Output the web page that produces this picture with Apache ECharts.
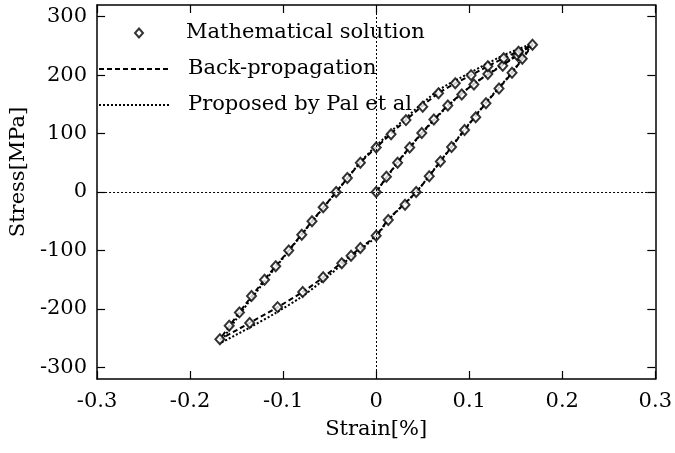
<!DOCTYPE html>
<html>
<head>
<meta charset="utf-8">
<title>Stress-strain loop</title>
<script src="https://cdn.jsdelivr.net/npm/echarts@6/dist/echarts.min.js"></script>
<style>
html, body { margin: 0; padding: 0; background: #fff; }
#chart { width: 675px; height: 453px; }
</style>
</head>
<body>
<div id="chart"></div>
<script>
// axis ticks
var yTicks = [-300, -200, -100, 0, 100, 200, 300];

// Mathematical solution (markers): initial loading, unloading, reloading
var mathLoadStrain = [0, 0.011, 0.023, 0.036, 0.049, 0.062, 0.077, 0.092, 0.105, 0.120, 0.136, 0.152, 0.168];
var mathLoadStress = [0, 26, 50, 76, 101, 124, 148, 167, 184, 202, 216, 233, 252];
var mathUnloadStrain = [0.157, 0.146, 0.132, 0.118, 0.107, 0.095, 0.081, 0.069, 0.057, 0.043, 0.031, 0.013, 0, -0.017, -0.027, -0.037, -0.057, -0.079, -0.106, -0.136, -0.168];
var mathUnloadStress = [228, 204, 177, 152, 128, 106, 77, 52, 27, 0, -22, -48, -75, -96, -109, -122, -146, -171, -197, -224, -252];
var mathReloadStrain = [-0.158, -0.147, -0.134, -0.120, -0.108, -0.094, -0.080, -0.069, -0.057, -0.043, -0.031, -0.017, 0, 0.016, 0.032, 0.050, 0.067, 0.085, 0.102, 0.120, 0.137, 0.153];
var mathReloadStress = [-229, -206, -178, -150, -127, -100, -73, -50, -26, 0, 24, 50, 76, 99, 123, 146, 169, 186, 200, 215, 229, 240];

// Back-propagation (dashed), one path: load -> unload -> reload
var bpStrain = [0, 0.023, 0.049, 0.077, 0.105, 0.136, 0.168,
    0.146, 0.118, 0.095, 0.069, 0.043, 0.013, 0, -0.027, -0.057, -0.079, -0.106, -0.136, -0.168,
    -0.147, -0.120, -0.094, -0.069, -0.043, -0.017, 0, 0.032, 0.067, 0.102, 0.137, 0.168];
var bpStress = [0, 51, 101, 148, 185, 217, 252,
    204, 152, 106, 52, 0, -47, -74, -108, -146, -171, -197, -224, -252,
    -206, -150, -100, -50, 0, 50, 76, 123, 169, 200, 229, 252];

// Proposed by Pal et al (dotted)
var palStrain = [0, 0.023, 0.049, 0.077, 0.105, 0.136, 0.168,
    0.146, 0.118, 0.095, 0.069, 0.043, 0.013, 0, -0.027, -0.057, -0.079, -0.106, -0.136, -0.168,
    -0.147, -0.120, -0.094, -0.069, -0.043, -0.017, 0, 0.032, 0.067, 0.102, 0.137, 0.168];
var palStress = [0, 50, 100, 147, 185, 218, 254,
    205, 153, 107, 53, 0, -48, -76, -111, -151, -178, -205, -232, -259,
    -210, -153, -101, -51, 0, 51, 79, 127, 174, 205, 234, 254];

function pairs(xs, ys) {
    var out = [];
    for (var i = 0; i < xs.length; i++) out.push([xs[i], ys[i]]);
    return out;
}

var mathData = pairs(mathLoadStrain, mathLoadStress)
    .concat(pairs(mathUnloadStrain, mathUnloadStress))
    .concat(pairs(mathReloadStrain, mathReloadStress));

var font = 'DejaVu Serif';
var fs = 21;
var hidden = { color: 'rgba(0,0,0,0)', borderWidth: 0 };
var legendText = { fontFamily: font, fontSize: fs, color: '#000', lineHeight: 22 };

var myChart = echarts.init(document.getElementById('chart'));
var option = {
    backgroundColor: '#fff',
    animation: false,
    grid: { left: 88, right: 16, top: 5, bottom: 74 },
    legend: [{
        // marker entry
        orient: 'vertical',
        left: 129,
        top: 17,
        itemWidth: 8,
        itemHeight: 9,
        textStyle: Object.assign({ padding: [0, 0, 0, 38] }, legendText),
        data: [{ name: 'Mathematical solution', icon: 'emptyDiamond', itemStyle: { color: '#000', borderWidth: 2.5 } }]
    }, {
        // line entries
        orient: 'vertical',
        left: 93,
        top: 53,
        itemWidth: 70,
        itemHeight: 8,
        itemGap: 14,
        textStyle: Object.assign({ padding: [0, 0, 0, 14] }, legendText),
        data: [
            { name: 'Back-propagation', itemStyle: hidden },
            { name: 'Proposed by Pal et al', itemStyle: hidden }
        ]
    }],
    xAxis: [{
        type: 'value',
        min: -0.3, max: 0.3, interval: 0.1,
        name: 'Strain[%]',
        nameLocation: 'middle',
        nameGap: 40,
        nameTextStyle: { fontFamily: font, fontSize: fs, color: '#000' },
        axisLine: { onZero: false, lineStyle: { color: '#000', width: 1.5 } },
        axisTick: { inside: true, length: 8, lineStyle: { color: '#000', width: 1.2 } },
        axisLabel: { fontFamily: font, fontSize: fs, color: '#000', margin: 12 },
        splitLine: { show: false }
    }, {
        type: 'value',
        position: 'top',
        min: -0.3, max: 0.3, interval: 0.1,
        axisLine: { onZero: false, lineStyle: { color: '#000', width: 1.5 } },
        axisTick: { inside: true, length: 8, lineStyle: { color: '#000', width: 1.2 } },
        axisLabel: { show: false },
        splitLine: { show: false }
    }],
    yAxis: [{
        type: 'value',
        min: -320, max: 320,
        name: 'Stress[MPa]',
        nameLocation: 'middle',
        nameGap: 58,
        nameTextStyle: { fontFamily: font, fontSize: fs, color: '#000', padding: [0, 0, 0, 40] },
        axisLine: { onZero: false, lineStyle: { color: '#000', width: 1.5 } },
        axisTick: { inside: true, length: 8, customValues: yTicks, lineStyle: { color: '#000', width: 1.2 } },
        axisLabel: { fontFamily: font, fontSize: fs, color: '#000', margin: 10, customValues: yTicks },
        splitLine: { show: false }
    }, {
        type: 'value',
        position: 'right',
        min: -320, max: 320,
        axisLine: { onZero: false, lineStyle: { color: '#000', width: 1.5 } },
        axisTick: { inside: true, length: 8, customValues: yTicks, lineStyle: { color: '#000', width: 1.2 } },
        axisLabel: { show: false },
        splitLine: { show: false }
    }],
    series: [{
        name: 'Mathematical solution',
        type: 'scatter',
        symbol: 'emptyDiamond',
        symbolSize: [9, 10],
        itemStyle: { color: '#000', borderWidth: 3 },
        data: mathData,
        z: 4,
        markLine: {
            silent: true,
            symbol: 'none',
            label: { show: false },
            lineStyle: { color: '#000', type: [2, 2], width: 1 },
            data: [{ xAxis: 0 }, { yAxis: 0 }]
        }
    }, {
        name: 'Back-propagation',
        type: 'line',
        symbol: 'none',
        smooth: 0.3,
        lineStyle: { color: '#000', width: 2, type: [5, 3] },
        itemStyle: { color: '#000' },
        data: pairs(bpStrain, bpStress),
        z: 3
    }, {
        name: 'Proposed by Pal et al',
        type: 'line',
        symbol: 'none',
        smooth: 0.3,
        lineStyle: { color: '#000', width: 2, type: [2, 2] },
        itemStyle: { color: '#000' },
        data: pairs(palStrain, palStress),
        z: 3
    }]
};
myChart.setOption(option);
</script>
</body>
</html>
